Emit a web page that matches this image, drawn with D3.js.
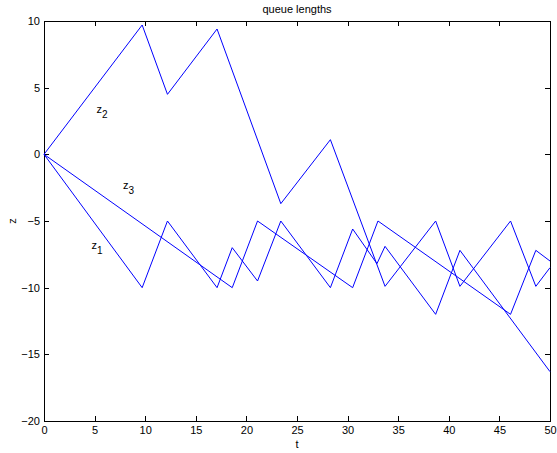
<!DOCTYPE html>
<meta charset="utf-8">
<head>
<style>
    body { margin: 0; background: #fff; }
    text { font-family: "Liberation Sans", Arial, sans-serif; }
    .axis text { font-size: 11px; fill: #000; }
    .axis path, .axis line { stroke: #000; fill: none; shape-rendering: crispEdges; }
    .queue { fill: none; stroke: #0000ff; stroke-width: 1px; }
</style>
</head>
<body>
<script src="https://d3js.org/d3.v7.min.js"></script>
<script>

    // breakpoints of the three queue lengths
    var t1 = [0, 9.7, 12.2, 17.1, 18.6, 21.1, 23.4, 28.3, 30.5, 32.9, 33.7, 38.7, 41.1, 50];
    var z1 = [0, -10, -5, -10, -7, -9.5, -5, -10, -5.6, -8.2, -6.9, -12, -7.2, -16.3];

    var t2 = [0, 9.7, 12.2, 17.1, 23.4, 28.3, 33.7, 38.7, 41.1, 46.1, 48.6, 50];
    var z2 = [0, 9.7, 4.5, 9.4, -3.7, 1.1, -9.9, -5, -9.9, -5, -9.9, -8.5];

    var t3 = [0, 18.6, 21.1, 30.5, 33.0, 46.1, 48.6, 50];
    var z3 = [0, -10, -5, -10, -5, -12, -7.2, -8.0];

    var xTicks = [0, 5, 10, 15, 20, 25, 30, 35, 40, 45, 50];
    var yTicks = [-20, -15, -10, -5, 0, 5, 10];

    var labels = [
        {name: "2", t: 5.2, z: 3.1},
        {name: "3", t: 7.8, z: -2.6},
        {name: "1", t: 4.7, z: -7.1}
    ];

    var margin = {top: 21, right: 7, bottom: 32, left: 44},
        width = 557 - margin.left - margin.right,
        height = 453 - margin.top - margin.bottom;

    var x = d3.scaleLinear().domain([0, 50]).range([0, width]);
    var y = d3.scaleLinear().domain([-20, 10]).range([height, 0]);

    var svg = d3.select("body").append("svg")
        .attr("width", 557)
        .attr("height", 453);

    var g = svg.append("g")
        .attr("transform", "translate(" + margin.left + "," + margin.top + ")");

    var fmt = function (d) { return d < 0 ? "\u2212" + Math.abs(d) : String(d); };

    // bottom / left axes with ticks pointing inward
    g.append("g")
        .attr("class", "axis")
        .attr("transform", "translate(0," + height + ")")
        .call(d3.axisBottom(x).tickValues(xTicks).tickSizeInner(-5).tickSizeOuter(0).tickPadding(5).tickFormat(fmt));

    g.append("g")
        .attr("class", "axis")
        .call(d3.axisLeft(y).tickValues(yTicks).tickSizeInner(-5).tickSizeOuter(0).tickPadding(4).tickFormat(fmt));

    // top / right box edges
    g.append("g")
        .attr("class", "axis")
        .call(d3.axisTop(x).tickValues(xTicks).tickSizeInner(-5).tickSizeOuter(0).tickFormat(""));

    g.append("g")
        .attr("class", "axis")
        .attr("transform", "translate(" + width + ",0)")
        .call(d3.axisRight(y).tickValues(yTicks).tickSizeInner(-5).tickSizeOuter(0).tickFormat(""));

    var line = d3.line()
        .x(function (d) { return x(d[0]); })
        .y(function (d) { return y(d[1]); });

    [[t1, z1], [t2, z2], [t3, z3]].forEach(function (s) {
        g.append("path")
            .attr("class", "queue")
            .attr("d", line(d3.zip(s[0], s[1])));
    });

    // z_i labels
    labels.forEach(function (l) {
        var tx = g.append("text")
            .attr("x", x(l.t))
            .attr("y", y(l.z))
            .style("font-size", "11px");
        tx.append("tspan").text("z");
        tx.append("tspan").attr("dy", 5).style("font-size", "10px").text(l.name);
    });

    svg.append("text")
        .attr("x", margin.left + width / 2)
        .attr("y", 13)
        .attr("text-anchor", "middle")
        .style("font-size", "11px")
        .text("queue lengths");

    svg.append("text")
        .attr("x", margin.left + width / 2)
        .attr("y", 448)
        .attr("text-anchor", "middle")
        .style("font-size", "11px")
        .text("t");

    svg.append("text")
        .attr("transform", "translate(16," + (margin.top + height / 2) + ") rotate(-90)")
        .attr("text-anchor", "middle")
        .style("font-size", "11px")
        .text("z");

</script>
</body>
